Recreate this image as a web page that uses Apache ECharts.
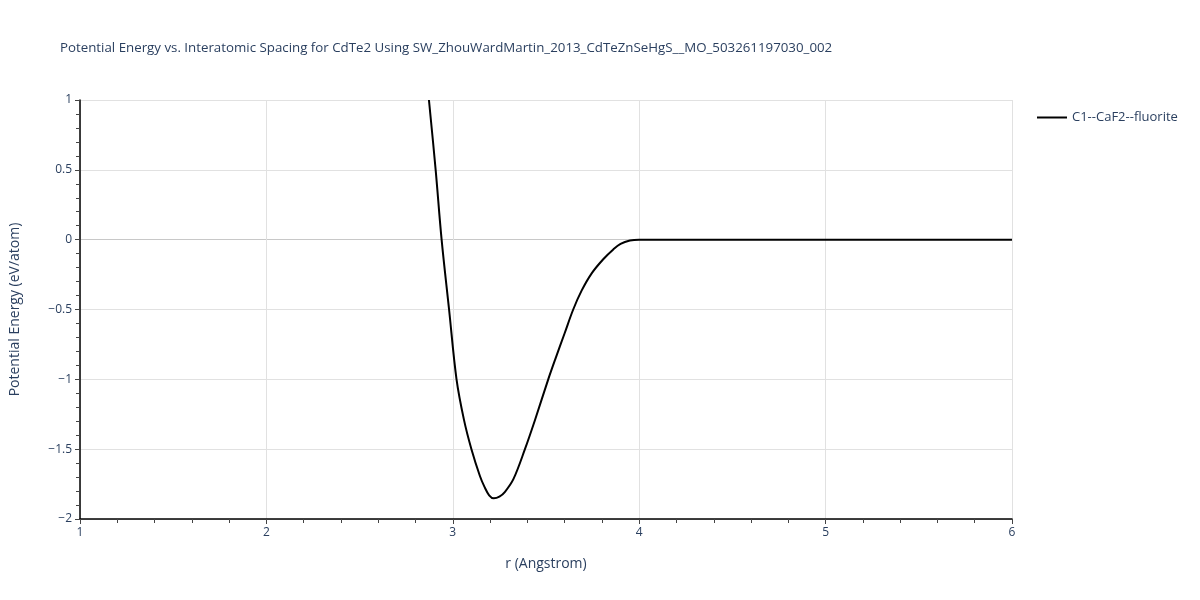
<!DOCTYPE html>
<html>
<head>
<meta charset="utf-8">
<script src="https://cdn.jsdelivr.net/npm/echarts@6/dist/echarts.min.js"></script>
<style>html,body{margin:0;padding:0;background:#fff}#main{width:1200px;height:600px}</style>
</head>
<body>
<div id="main"></div>
<script>
var seriesName = 'C1--CaF2--fluorite';
var rValues = [2.872, 2.908, 2.94, 2.98, 3.02, 3.06, 3.10, 3.145, 3.17, 3.195, 3.22, 3.25, 3.28, 3.325, 3.387, 3.441, 3.512, 3.548, 3.60, 3.646, 3.691, 3.745, 3.807, 3.861, 3.90, 3.95, 4.0, 4.5, 5.0, 5.5, 6.0];
var energyValues = [1.0, 0.5, 0.0, -0.5, -1.0, -1.29, -1.5, -1.69, -1.77, -1.83, -1.852, -1.84, -1.805, -1.715, -1.5, -1.291, -1.0, -0.862, -0.67, -0.5, -0.365, -0.241, -0.14, -0.07, -0.03, -0.006, 0.0, 0.0, 0.0, 0.0, 0.0];
var titleText = 'Potential Energy vs. Interatomic Spacing for CdTe2 Using SW_ZhouWardMartin_2013_CdTeZnSeHgS__MO_503261197030_002';
var xName = 'r (Angstrom)';
var yName = 'Potential Energy (eV/atom)';

var data = rValues.map(function (r, i) { return [r, energyValues[i]]; });
var fontFam = '"Open Sans", "Liberation Sans", sans-serif';
var txt = '#2a3f5f';
var chart = echarts.init(document.getElementById('main'));
chart.setOption({
  animation: false,
  textStyle: { fontFamily: fontFam },
  title: {
    text: titleText, left: 55, top: 37,
    textStyle: { fontFamily: fontFam, fontSize: 13.3, fontWeight: 'normal', color: txt }
  },
  legend: {
    left: 1032, top: 106, orient: 'vertical',
    itemWidth: 30, itemHeight: 2, icon: 'rect',
    textStyle: { fontFamily: fontFam, fontSize: 13, color: txt },
    data: [seriesName]
  },
  grid: { left: 80, right: 188, top: 100, bottom: 81 },
  xAxis: {
    type: 'value', min: 1, max: 6, interval: 1,
    name: xName, nameLocation: 'middle', nameGap: 38,
    nameTextStyle: { fontFamily: fontFam, fontSize: 14, color: txt },
    axisLine: { show: true, onZero: false, lineStyle: { color: '#000', width: 1.5 } },
    axisTick: { show: true, inside: false, length: 5, lineStyle: { color: '#444' } },
    minorTick: { show: true, splitNumber: 5, length: 4, lineStyle: { color: '#444' } },
    axisLabel: { fontFamily: fontFam, fontSize: 12, color: txt, margin: 8 },
    splitLine: { show: true, lineStyle: { color: '#e1e1e1', width: 1 } }
  },
  yAxis: {
    type: 'value', min: -2, max: 1, interval: 0.5,
    name: yName, nameLocation: 'middle', nameGap: 58,
    nameTextStyle: { fontFamily: fontFam, fontSize: 14, color: txt },
    axisLine: { show: true, onZero: false, lineStyle: { color: '#000', width: 1.5 } },
    axisTick: { show: true, inside: false, length: 5, lineStyle: { color: '#444' } },
    minorTick: { show: true, splitNumber: 5, length: 4, lineStyle: { color: '#444' } },
    axisLabel: {
      fontFamily: fontFam, fontSize: 12, color: txt, margin: 8,
      formatter: function (v) { return String(v).replace('-', '\u2212'); }
    },
    splitLine: {
      show: true,
      lineStyle: { color: ['#e1e1e1', '#e1e1e1', '#e1e1e1', '#e1e1e1', '#c8c8c8', '#e1e1e1', '#e1e1e1'], width: 1 }
    }
  },
  series: [{
    name: seriesName, type: 'line', data: data,
    showSymbol: false, smooth: 0.35, clip: true,
    lineStyle: { color: '#000', width: 2 },
    itemStyle: { color: '#000' }
  }]
});
</script>
</body>
</html>
